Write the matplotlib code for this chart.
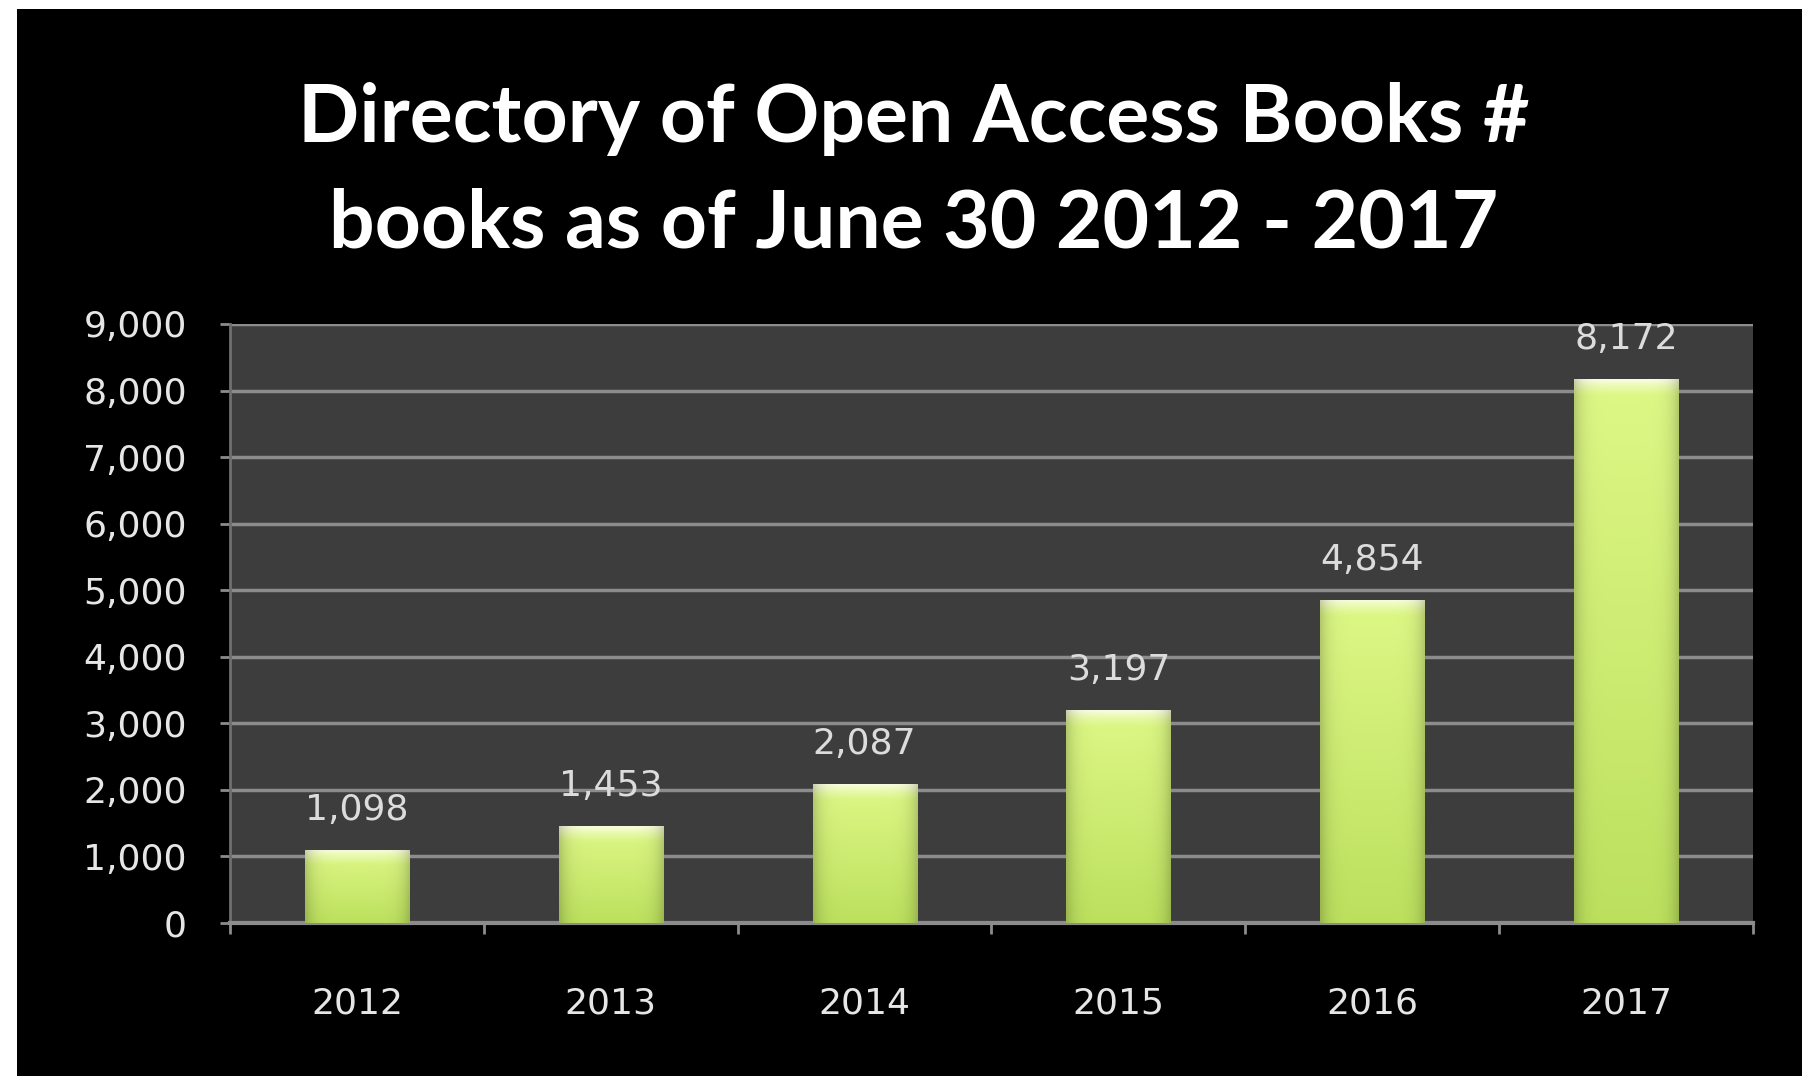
import numpy as np
import matplotlib.pyplot as plt
from matplotlib.patches import Rectangle

years = ['2012', '2013', '2014', '2015', '2016', '2017']
books = [1098, 1453, 2087, 3197, 4854, 8172]
yticks = [0, 1000, 2000, 3000, 4000, 5000, 6000, 7000, 8000, 9000]
title = 'Directory of Open Access Books #\nbooks as of June 30 2012 - 2017'

plt.rcParams['font.family'] = ['Lato', 'DejaVu Sans']
num_font = ['DejaVu Sans']

W, H = 1802, 1076
fig = plt.figure(figsize=(W / 100, H / 100), dpi=100, facecolor='white')
# black card with a thin white margin at left and top
fig.add_artist(Rectangle((17 / W, 0), 1, 1 - 9 / H, transform=fig.transFigure,
                         facecolor='black', edgecolor='none', zorder=0))

ax = fig.add_axes([230 / W, 1 - 923 / H, (1753 - 230) / W, (923 - 324) / H])
ax.set_facecolor('#3d3d3d')

x = np.arange(len(years))
width = 0.41
bars = ax.bar(x, books, width, color='#cdee74', zorder=2)


def bar_gradient(v):
    ny, nx = 300, 60
    yy = np.linspace(0, v, ny)[:, None]
    uu = np.linspace(0, 1, nx)[None, :]
    bottom = np.array([188, 224, 94]) / 255
    top = np.array([222, 248, 134]) / 255
    t = (yy / v)[..., None]
    img = bottom * (1 - t) + top * t
    # highlight near the top of the bar
    hl = np.clip(1 - (v - yy) / 260, 0, 1)[..., None] ** 1.5
    img = img * (1 - hl) + np.array([248, 253, 222]) / 255 * hl
    # darker edges
    edge = 1 - 0.18 * np.abs(2 * uu - 1)[..., None] ** 6
    img = np.clip(img * edge, 0, 1)
    return img


for xi, v, b in zip(x, books, bars):
    im = ax.imshow(bar_gradient(v), extent=(xi - width / 2, xi + width / 2, 0, v),
                   origin='lower', aspect='auto', zorder=3, interpolation='bilinear')
    im.set_clip_path(b)
    ax.annotate(f'{v:,}', (xi, v), xytext=(0, 29), textcoords='offset points',
                ha='center', va='center', color='#dcdcdc', fontsize=26,
                family=num_font, zorder=4)

ax.set_xlim(-0.5, len(years) - 0.5)
ax.set_ylim(0, 9000)
ax.set_yticks(yticks)
ax.set_yticklabels([f'{t:,}' for t in yticks], family=num_font)
ax.set_xticks(x)
ax.set_xticklabels(years, family=num_font)
ax.set_xticks(np.arange(len(years) + 1) - 0.5, minor=True)

ax.yaxis.grid(True, color='#8c8c8c', linewidth=2.5)
ax.set_axisbelow(True)

for s in ['top', 'right']:
    ax.spines[s].set_visible(False)
ax.spines['bottom'].set_color('#8c8c8c')
ax.spines['bottom'].set_linewidth(3)
ax.spines['left'].set_color('#707070')
ax.spines['left'].set_linewidth(2)

ax.tick_params(axis='y', colors='#8c8c8c', labelcolor='#e6e6e6', labelsize=26,
               length=7, width=2, pad=24)
ax.tick_params(axis='x', which='major', length=0, labelcolor='#e6e6e6',
               labelsize=26, pad=46)
ax.tick_params(axis='x', which='minor', length=8, width=2, colors='#8c8c8c')

fig.text(914 / W, 1 - 172 / H, title, ha='center', va='center', color='white',
         fontsize=58, fontweight='bold', linespacing=1.52)

fig.savefig('out.png', dpi=100, facecolor=fig.get_facecolor())
